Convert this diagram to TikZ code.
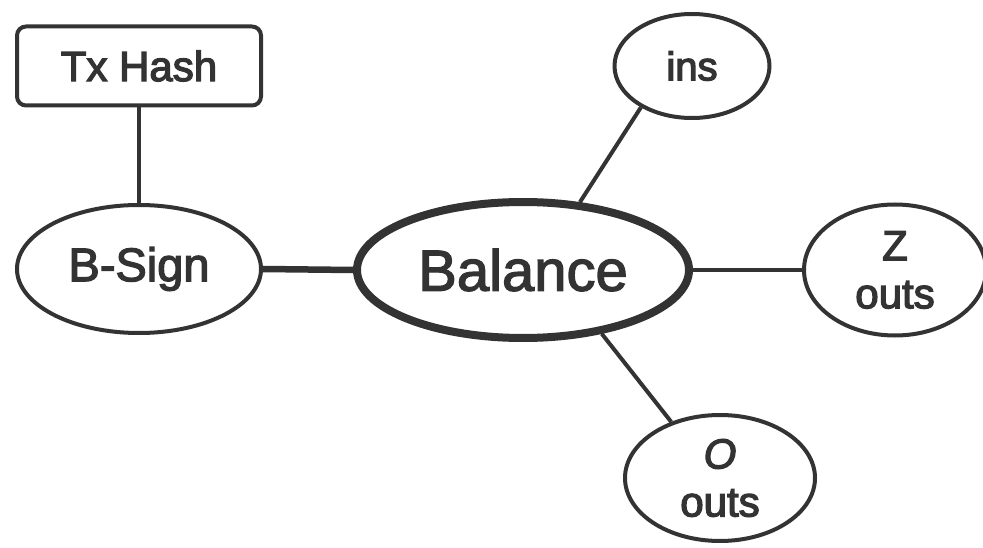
\documentclass[tikz,border=0pt]{standalone}
\usepackage{fontspec}
\setmainfont{Liberation Sans}
\usetikzlibrary{shapes.geometric}
\definecolor{ink}{HTML}{333333}
\newcommand\heavyink{\special{pdf:literal direct 1.3 w 2 Tr}}
\begin{document}
\begin{tikzpicture}[x=1pt,y=-1pt,
  every node/.style={text=ink, inner sep=0pt},
  ell/.style={draw=ink, ellipse, line width=4pt, align=center},
  conn/.style={draw=ink, line width=4pt},
  f/.style={font=\fontsize{#1}{48}\selectfont\heavyink}
]
\useasboundingbox (0,0) rectangle (983,548);
\node[draw=ink, line width=4pt, rounded corners=9pt, minimum width=244pt, minimum height=79pt, f=42] (tx) at (139,66) {Tx Hash};
\node[ell, minimum width=244pt, minimum height=128pt, f=47] (bs) at (139,269) {B-Sign};
\node[ell, line width=8pt, minimum width=332pt, minimum height=136pt, f=58] (bal) at (523,270) {Balance};
\node[ell, minimum width=155pt, minimum height=104pt, f=40] (ins) at (692,66) {ins};
\node[ell, minimum width=182pt, minimum height=131pt, f=42] (z) at (895,270) {Z\\outs};
\node[ell, minimum width=190pt, minimum height=126pt, f=42] (o) at (720,478) {\textit{\heavyink O}\\outs};
\draw[conn] (tx.south) -- (bs.north);
\draw[conn, line width=6.5pt] (bs.east) -- (bal.west);
\draw[conn] (bal.50) -- (ins.219);
\draw[conn] (bal.east) -- (z.west);
\draw[conn] (bal.-39) -- (o.131);
\end{tikzpicture}
\end{document}
